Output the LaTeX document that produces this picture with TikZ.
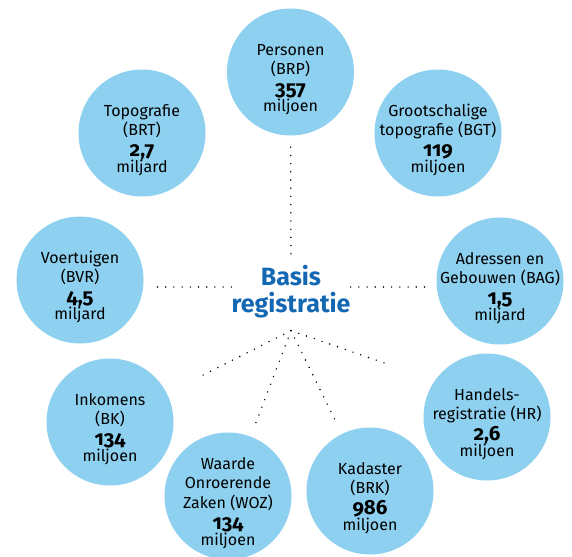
\documentclass[tikz,border=0pt]{standalone}
\usepackage{fontspec}
\setmainfont{Fira Sans}[Numbers=OldStyle]
\usepackage{tikz}
\usetikzlibrary{calc}
\definecolor{regblue}{HTML}{8DD0EF}
\definecolor{regtitle}{HTML}{1468B3}
\newcommand{\amount}[1]{{\fontsize{20.5}{20}\selectfont\bfseries #1}}
\newcommand{\topgap}{\rule{0pt}{26pt}}

\begin{document}
\begin{tikzpicture}[
  x=1pt, y=-1pt,
  register/.style={circle, fill=regblue, minimum size=127pt, inner sep=-30pt, align=center, font=\fontsize{16}{19.5}\selectfont},
  title/.style={align=center, inner xsep=0pt, inner ysep=12pt, text=regtitle, font=\fontsize{25}{27}\selectfont\bfseries},
  link/.style={line width=1.6pt, line cap=round, dash pattern=on 0pt off 8.2pt},
]
  \useasboundingbox (0,0) rectangle (572,556);

  \node[title] (basis) at (291,292) {Basis\\registratie};
  \coordinate (hub) at (basis.south);

  \node[register] (personen) at (290.5,72) {\topgap Personen\\(BRP)\\[1.5pt]\amount{357}\\[-3.5pt]miljoen};
  \node[register] (topografie) at (142,133) {\topgap Topografie\\(BRT)\\[1.5pt]\amount{2,7}\\[-3.5pt]miljard};
  \node[register] (bgt) at (438,133) {\topgap Grootschalige\\topografie (BGT)\\[1.5pt]\amount{119}\\[-3.5pt]miljoen};
  \node[register] (voertuigen) at (80,280) {\topgap Voertuigen\\(BVR)\\[1.5pt]\amount{4,5}\\[-3.5pt]miljard};
  \node[register] (bag) at (500,281) {\topgap Adressen en\\Gebouwen (BAG)\\[1.5pt]\amount{1,5}\\[-3.5pt]miljard};
  \node[register] (inkomens) at (110,422) {\topgap Inkomens\\(BK)\\[1.5pt]\amount{134}\\[-3.5pt]miljoen};
  \node[register] (hr) at (487,417) {\topgap Handels-\\registratie (HR)\\[1.5pt]\amount{2,6}\\[-3.5pt]miljoen};
  \node[register] (woz) at (228,496) {\topgap Waarde\\Onroerende\\Zaken (WOZ)\\[1.5pt]\amount{134}\\[-3.5pt]miljoen};
  \node[register] (kadaster) at (370,491) {\topgap Kadaster\\(BRK)\\[1.5pt]\amount{986}\\[-3.5pt]miljoen};

  % dotted links
  \draw[link, shorten <=11.5pt, shorten >=-7pt] (personen) -- (basis);
  \draw[link, shorten >=10.5pt] ([yshift=5pt]basis.west) -- ([yshift=5pt]basis.west -| voertuigen.east);
  \draw[link, shorten >=9pt] ([yshift=5pt]basis.east) -- ([yshift=5pt]basis.east -| bag.west);
  \draw[link, shorten >=38.5pt] (hub) -- (inkomens);
  \draw[link, shorten >=13pt] (hub) -- (woz);
  \draw[link, shorten >=15pt] (hub) -- (kadaster);
  \draw[link, shorten >=51.5pt] (hub) -- (hr.145);
\end{tikzpicture}
\end{document}
